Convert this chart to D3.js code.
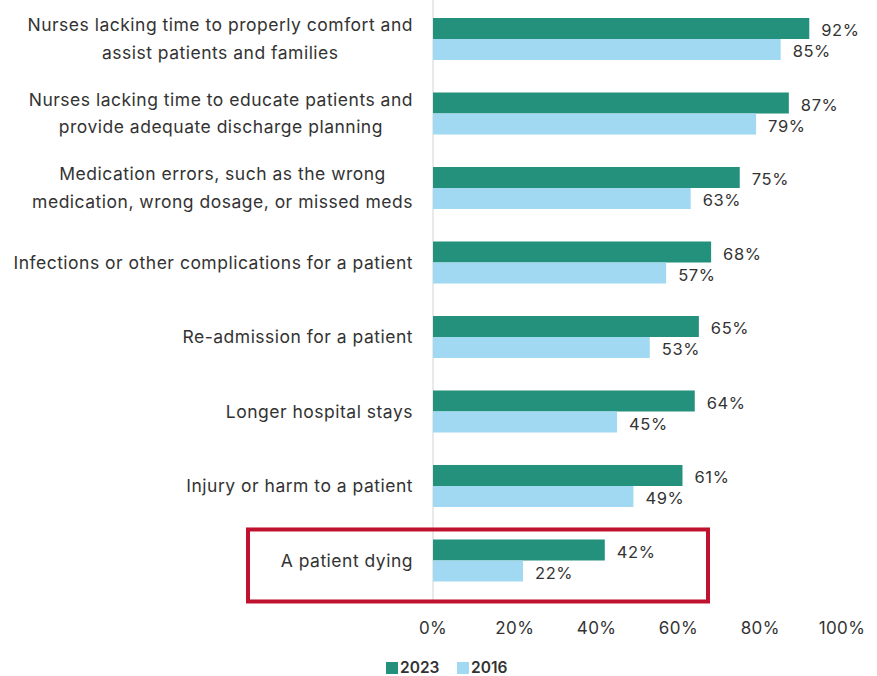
<!DOCTYPE html>
<html>
<head>
<meta charset="utf-8">
<script src="https://cdn.jsdelivr.net/npm/d3@7"></script>
<style>
  body { margin: 0; background: #fff; }
  svg { display: block; font-family: Inter, "Noto Sans", sans-serif; }
</style>
</head>
<body>
<svg width="877" height="676"></svg>
<script>
var categories = [
  ["Nurses lacking time to properly comfort and", "assist patients and families"],
  ["Nurses lacking time to educate patients and", "provide adequate discharge planning"],
  ["Medication errors, such as the wrong", "medication, wrong dosage, or missed meds"],
  ["Infections or other complications for a patient"],
  ["Re-admission for a patient"],
  ["Longer hospital stays"],
  ["Injury or harm to a patient"],
  ["A patient dying"]
];
var values2023 = [92, 87, 75, 68, 65, 64, 61, 42];
var values2016 = [85, 79, 63, 57, 53, 45, 49, 22];
var seriesNames = ["2023", "2016"];
var colors = ["#23917b", "#a0d9f1"];
var xTicks = [0, 20, 40, 60, 80, 100];

var svg = d3.select("svg");
var textColor = "#333";

var x = d3.scaleLinear().domain([0, 100]).range([433, 842]);
var y = d3.scaleBand().domain(d3.range(categories.length)).range([18, 581.5]).paddingInner(0.436).paddingOuter(0);
var sub = d3.scaleBand().domain([0, 1]).range([0, y.bandwidth()]);

// axis line
svg.append("line")
  .attr("x1", x(0)).attr("x2", x(0))
  .attr("y1", 0).attr("y2", 600)
  .attr("stroke", "#e2e2e2").attr("stroke-width", 1.5);

var groups = svg.selectAll(".grp")
  .data(categories)
  .enter().append("g")
  .attr("class", "grp")
  .attr("transform", function (d, i) { return "translate(0," + y(i) + ")"; });

[values2023, values2016].forEach(function (vals, s) {
  groups.append("rect")
    .attr("x", x(0))
    .attr("y", sub(s))
    .attr("width", function (d, i) { return x(vals[i]) - x(0); })
    .attr("height", sub.bandwidth())
    .attr("fill", colors[s]);

  groups.append("text")
    .attr("x", function (d, i) { return x(vals[i]) + 12; })
    .attr("y", sub(s) + sub.bandwidth() / 2 + 2)
    .attr("dy", "0.35em")
    .attr("fill", textColor)
    .attr("font-size", "16.5px")
    .attr("letter-spacing", "0.6px")
    .text(function (d, i) { return vals[i] + "%"; });
});

// category labels: block right-aligned, lines centred
groups.each(function (lines) {
  var g = d3.select(this);
  var t = g.append("text")
    .attr("fill", textColor)
    .attr("font-size", "17.5px")
    .attr("letter-spacing", "0.5px")
    .attr("text-anchor", "middle");
  var n = lines.length;
  var spans = lines.map(function (l, k) {
    return t.append("tspan")
      .attr("y", y.bandwidth() / 2 + (k - (n - 1) / 2) * 27.5)
      .attr("dy", "0.35em")
      .text(l);
  });
  var w = d3.max(spans, function (s) { return s.node().getComputedTextLength(); });
  spans.forEach(function (s) { s.attr("x", 413 - w / 2); });
});

// highlight box
svg.append("rect")
  .attr("x", 248).attr("y", y(7) - 10)
  .attr("width", 708 - 248).attr("height", 72)
  .attr("fill", "none")
  .attr("stroke", "#c0112e")
  .attr("stroke-width", 4);

// x tick labels
svg.selectAll(".tick")
  .data(xTicks)
  .enter().append("text")
  .attr("x", function (d) { return x(d); })
  .attr("y", 628)
  .attr("dy", "0.35em")
  .attr("text-anchor", "middle")
  .attr("fill", textColor)
  .attr("font-size", "17px")
  .attr("letter-spacing", "0.4px")
  .text(function (d) { return d + "%"; });

// legend
var legend = svg.append("g").attr("transform", "translate(386,662)");
var lx = [0, 71];
seriesNames.forEach(function (name, s) {
  legend.append("rect")
    .attr("x", lx[s]).attr("y", 0)
    .attr("width", 12).attr("height", 12)
    .attr("fill", colors[s]);
  legend.append("text")
    .attr("x", lx[s] + 14).attr("y", 6)
    .attr("dy", "0.35em")
    .attr("fill", textColor)
    .attr("font-size", "15.5px")
    .attr("font-weight", 600)
    .text(name);
});
</script>
</body>
</html>
